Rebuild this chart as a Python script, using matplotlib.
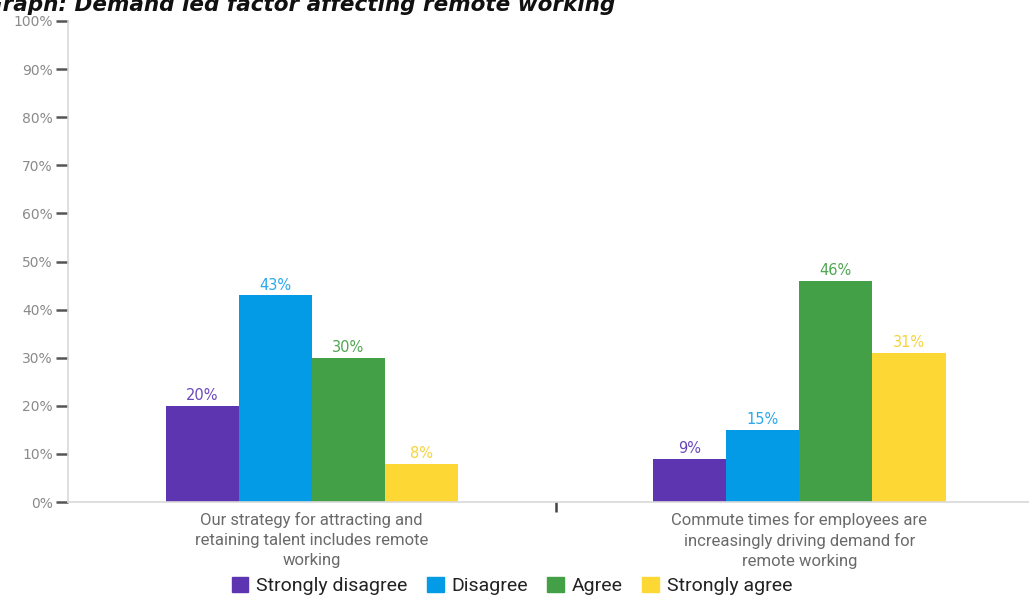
import matplotlib.pyplot as plt
from matplotlib.patches import Patch
import numpy as np

##### data #####
categories = ['Our strategy for attracting and\nretaining talent includes remote\nworking',
              'Commute times for employees are\nincreasingly driving demand for\nremote working']
series = ['Strongly disagree', 'Disagree', 'Agree', 'Strongly agree']
strongly_disagree = [20, 9]
disagree = [43, 15]
agree = [30, 46]
strongly_agree = [8, 31]
yticks = [0, 10, 20, 30, 40, 50, 60, 70, 80, 90, 100]

colors = ['#5E35B1', '#039BE5', '#43A047', '#FDD835']
label_colors = ['#6A48BC', '#29A8EA', '#4FA653', '#F5D33C']

W, H = 1029, 597
fig = plt.figure(figsize=(W/100, H/100), dpi=100)
# axes runs past the right edge, like the source layout
ax = fig.add_axes([68/W, (H-502)/H, (1043-68)/W, (502-21)/H])

x = np.arange(len(categories))
bw = 0.15
vals = [strongly_disagree, disagree, agree, strongly_agree]
for i, v in enumerate(vals):
    xs = x + (i - 1.5)*bw
    ax.bar(xs, v, width=bw, color=colors[i], linewidth=0)
    for xi, vi in zip(xs, v):
        ax.text(xi, vi + 0.5, f'{vi}%', ha='center', va='bottom', color=label_colors[i],
                fontsize=10.5, family='DejaVu Sans')

ax.set_xlim(-0.5, 1.5)
ax.set_ylim(0, 100)
ax.set_yticks(yticks)
ax.set_yticklabels([f'{t}%' for t in yticks], color='#8a8a8a', fontsize=10, family='DejaVu Sans')
ax.tick_params(axis='y', length=9, width=1.8, color='#555555', pad=2)

ax.set_xticks(x)
ax.set_xticklabels(categories, color='#6a6a6a', fontsize=12, family='Roboto', linespacing=1.42)
ax.tick_params(axis='x', which='major', length=0, pad=7)
ax.set_xticks([0.5], minor=True)
ax.tick_params(axis='x', which='minor', length=7, width=1.8, color='#444444', direction='out')

for s in ['top', 'right']:
    ax.spines[s].set_visible(False)
ax.spines['left'].set_color('#d9d9d9')
ax.spines['bottom'].set_color('#d9d9d9')
ax.spines['left'].set_linewidth(1.2)
ax.spines['bottom'].set_linewidth(1.2)

handles = [Patch(color=c, label=s) for c, s in zip(colors, series)]
fig.legend(handles=handles, loc='center', bbox_to_anchor=(512/W, 1 - 586/H), ncol=4,
           frameon=False, handlelength=0.85, handleheight=0.85, handletextpad=0.4,
           columnspacing=1.0, prop={'family': 'Roboto', 'size': 14}, labelcolor='#222222')

# title, top part falls off the canvas
fig.text(615/W, 1 - 11/H, 'Graph: Demand led factor affecting remote working', ha='right',
         va='baseline', fontsize=15.5, fontweight='bold', fontstyle='italic', color='#111111')

fig.savefig('out.png', dpi=100)
